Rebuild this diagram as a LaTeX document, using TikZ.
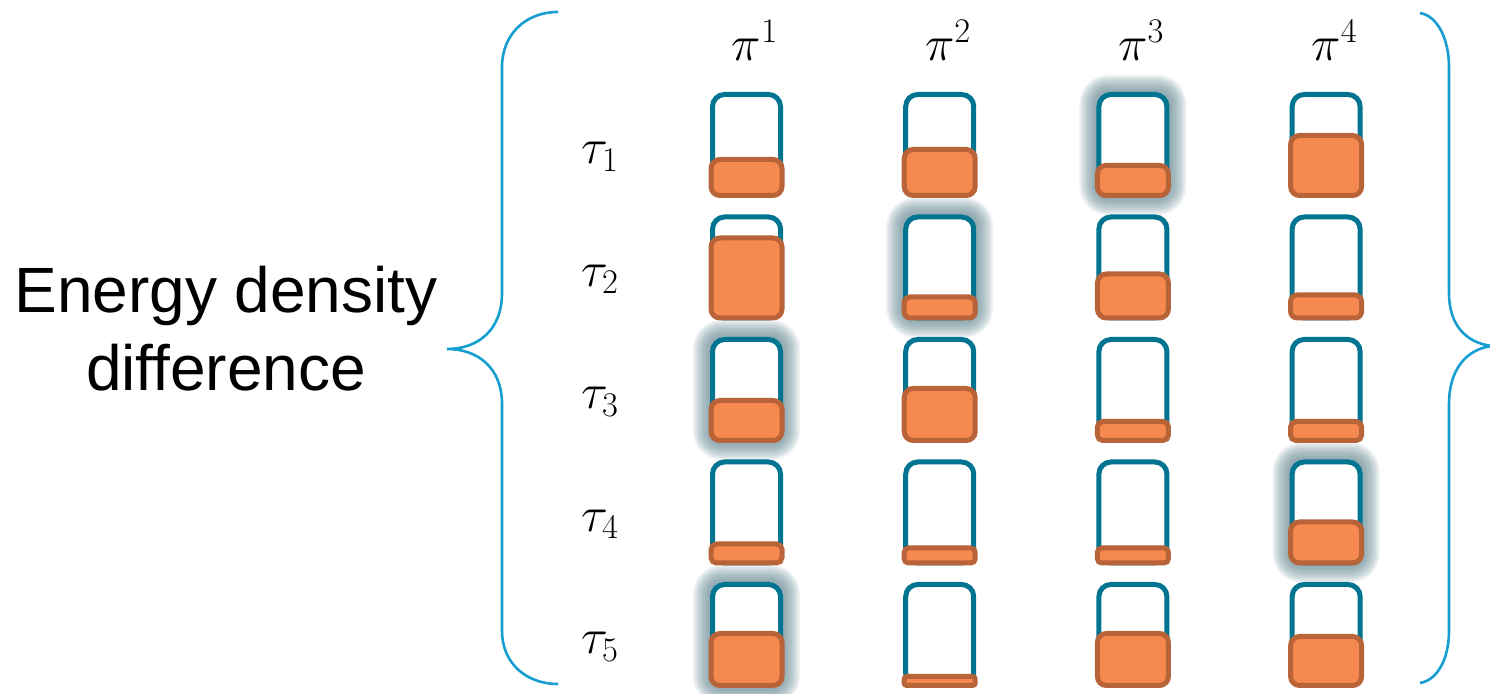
\documentclass[tikz,border=0pt]{standalone}
\usepackage{fontspec}
\newfontfamily\labelsans{Liberation Sans}
\definecolor{cellblue}{RGB}{0,116,145}
\definecolor{levelfill}{RGB}{245,137,79}
\definecolor{leveledge}{RGB}{184,99,56}
\definecolor{bracecol}{RGB}{22,158,208}
\definecolor{glowcol}{RGB}{100,135,146}
\begin{document}
\begin{tikzpicture}[x=0.5pt,y=-0.5pt,
  cellbox/.style={draw=cellblue, fill=white, line width=2.5pt, rounded corners=6pt,
    minimum width=34pt, minimum height=50.5pt, inner sep=0pt, outer sep=0pt},
  levelbox/.style={draw=leveledge, fill=levelfill, line width=2.5pt,
    minimum width=35.5pt, inner sep=0pt, outer sep=0pt, anchor=south},
  bracepath/.style={draw=bracecol, line width=1.3pt},
  mathlabel/.style={font=\fontsize{26}{30}\selectfont, inner sep=0pt},
  titletext/.style={font=\labelsans\fontsize{32}{39}\selectfont, align=center, inner sep=0pt}]
\useasboundingbox (0,0) rectangle (1490,694);

% soft halo behind the highlighted cells (row/column)
\foreach \r/\c in {1/3, 2/2, 3/1, 4/4, 5/1} {
  \pgfmathsetmacro\cx{746.5+193.2*(\c-1)}
  \pgfmathsetmacro\cy{145+122.5*(\r-1)}
  \foreach \k in {1,...,10} {
    \pgfmathsetmacro\rr{6+0.85*\k}
    \fill[glowcol, opacity=0.11, rounded corners=\rr pt]
      (\cx-36.5-1.7*\k, \cy-53-1.7*\k) rectangle (\cx+36.5+1.7*\k, \cy+53+1.7*\k);
  }
}

% cells: row / column / outer height of the orange level (px)
\foreach \r/\c/\h in {1/1/41, 1/2/51, 1/3/35, 1/4/65,
                      2/1/85, 2/2/26, 2/3/49, 2/4/28,
                      3/1/45, 3/2/57, 3/3/24, 3/4/24,
                      4/1/24, 4/2/20, 4/3/20, 4/4/46,
                      5/1/57, 5/2/14, 5/3/57, 5/4/54} {
  \pgfmathsetmacro\cx{746.5+193.2*(\c-1)}
  \pgfmathsetmacro\cy{145+122.5*(\r-1)}
  \pgfmathsetmacro\lh{(\h-5)*0.5}
  \pgfmathsetmacro\rc{min(4.5,\lh/3.5)}
  \node[cellbox] (c\r\c) at (\cx,\cy) {};
  \node[levelbox, minimum height=\lh pt, rounded corners=\rc pt] (l\r\c) at (c\r\c.south) {};
}

% column headers
\foreach \c in {1,...,4} {
  \pgfmathsetmacro\cx{755+193.2*(\c-1)}
  \node[mathlabel] (pi\c) at (\cx,40) {$\pi^{\c}$};
}
% row headers
\foreach \r in {1,...,5} {
  \pgfmathsetmacro\cy{157+122.5*(\r-1)}
  \node[mathlabel] (tau\r) at (600,\cy) {$\tau_{\r}$};
}

\node[titletext] (title) at (226,329) {Energy density\\difference};

% braces
\draw[bracepath] (558,12) .. controls (525,12) and (502,35) .. (502,67)
  -- (502,293) .. controls (502,330) and (478,349) .. (447,349)
  .. controls (478,349) and (502,368) .. (502,404)
  -- (502,631) .. controls (502,662) and (525,684) .. (558,684);
\draw[bracepath] (1420,13) .. controls (1438,16) and (1449,40) .. (1449,67)
  -- (1449,293) .. controls (1449,325) and (1466,343) .. (1492,346)
  .. controls (1466,349) and (1449,370) .. (1449,404)
  -- (1449,631) .. controls (1449,658) and (1438,680) .. (1420,683);
\end{tikzpicture}
\end{document}
